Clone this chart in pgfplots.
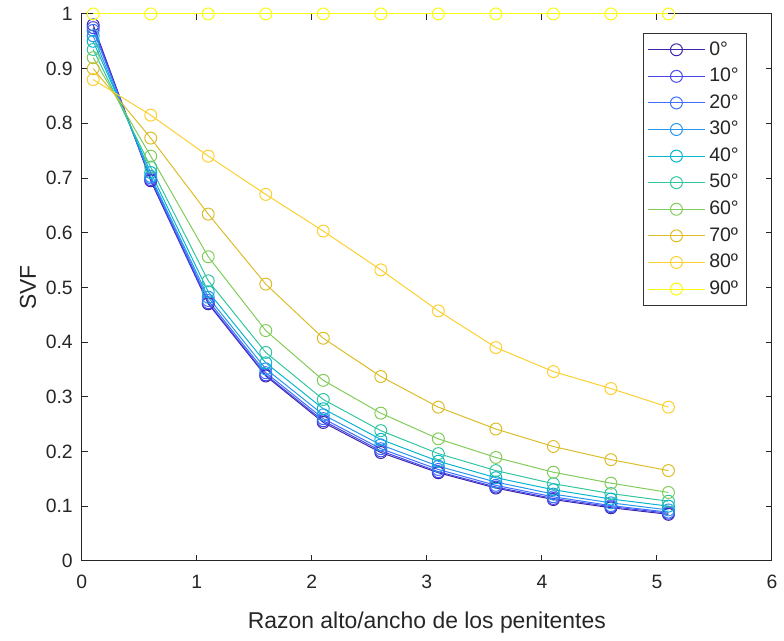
\documentclass[border=0pt]{standalone}
\usepackage{fontspec}
\setmainfont{Liberation Sans}
\usepackage{pgfplots}
\pgfplotsset{compat=1.18}
\definecolor{c0}{rgb}{0.2422,0.1504,0.6603}
\definecolor{c1}{rgb}{0.2803,0.2782,0.9221}
\definecolor{c2}{rgb}{0.2440,0.4358,0.9988}
\definecolor{c3}{rgb}{0.1540,0.5902,0.9218}
\definecolor{c4}{rgb}{0.0297,0.7082,0.8163}
\definecolor{c5}{rgb}{0.1938,0.7758,0.6251}
\definecolor{c6}{rgb}{0.5044,0.7993,0.3480}
\definecolor{c7}{rgb}{0.8634,0.7406,0.1596}
\definecolor{c8}{rgb}{0.9892,0.8136,0.1885}
\definecolor{c9}{rgb}{0.9763,0.9831,0.0538}
\pgfplotstableread{
x    a0    a10   a20   a30   a40   a50   a60   a70   a80   a90
0.1  0.980 0.975 0.970 0.960 0.950 0.935 0.920 0.900 0.880 1
0.6  0.695 0.697 0.700 0.703 0.710 0.720 0.740 0.773 0.815 1
1.1  0.470 0.472 0.476 0.482 0.492 0.512 0.556 0.634 0.740 1
1.6  0.338 0.340 0.344 0.351 0.362 0.381 0.421 0.506 0.670 1
2.1  0.253 0.256 0.260 0.267 0.278 0.295 0.330 0.407 0.603 1
2.6  0.198 0.201 0.205 0.212 0.222 0.238 0.270 0.337 0.532 1
3.1  0.161 0.163 0.167 0.173 0.182 0.196 0.223 0.281 0.457 1
3.6  0.133 0.135 0.138 0.144 0.152 0.165 0.189 0.241 0.390 1
4.1  0.112 0.114 0.117 0.122 0.130 0.141 0.162 0.209 0.346 1
4.6  0.097 0.099 0.101 0.106 0.113 0.123 0.142 0.185 0.315 1
5.1  0.085 0.087 0.089 0.093 0.100 0.109 0.125 0.165 0.281 1
}\svf
\begin{document}
\begin{tikzpicture}
\begin{axis}[
  width=346.5pt, height=274.5pt, scale only axis,
  xmin=0, xmax=6, ymin=0, ymax=1,
  xtick={0,1,2,3,4,5,6},
  ytick={0,0.1,0.2,0.3,0.4,0.5,0.6,0.7,0.8,0.9,1},
  yticklabels={0,0.1,0.2,0.3,0.4,0.5,0.6,0.7,0.8,0.9,1},
  xticklabels={0,1,2,3,4,5,6},
  tick align=inside, xtick pos=both, ytick pos=both,
  major tick length=3pt,
  axis line style={black!85, line width=0.5pt},
  every tick/.style={black!85, line width=0.5pt},
  /pgf/number format/assume math mode=true,
  ticklabel style={font=\fontsize{9.7}{11}\selectfont, text=black!85},
  xticklabel style={yshift=-3.5pt},
  yticklabel style={xshift=-1pt},
  xlabel={Razon alto/ancho de los penitentes},
  ylabel={SVF},
  label style={font=\fontsize{11.5}{13}\selectfont, text=black!85},
  xlabel style={yshift=-5pt},
  ylabel style={yshift=-2pt},
  clip=false,
  legend style={at={(0.964,0.965)}, anchor=north east, draw=black!80,
    font=\fontsize{9.8}{11}\selectfont, text=black!85, cells={anchor=west},
    row sep=1.0pt, inner sep=2pt},
  legend image code/.code={%
    \draw[#1, mark repeat=2, mark phase=2] plot coordinates {(0cm,0cm) (0.5cm,0cm) (1.0cm,0cm)};},
  every axis plot/.append style={line width=0.5pt, mark=o, mark size=3pt, mark options={solid}},
]
\addplot[c0] table[x=x,y=a0]{\svf};
\addplot[c1] table[x=x,y=a10]{\svf};
\addplot[c2] table[x=x,y=a20]{\svf};
\addplot[c3] table[x=x,y=a30]{\svf};
\addplot[c4] table[x=x,y=a40]{\svf};
\addplot[c5] table[x=x,y=a50]{\svf};
\addplot[c6] table[x=x,y=a60]{\svf};
\addplot[c7] table[x=x,y=a70]{\svf};
\addplot[c8] table[x=x,y=a80]{\svf};
\addplot[c9] table[x=x,y=a90]{\svf};
\legend{0°,10°,20°,30°,40°,50°,60°,70º,80º,90º}
\end{axis}
\path ([xshift=-41pt,yshift=-37pt]current axis.south west);
\path ([xshift=4.5pt,yshift=7pt]current axis.north east);
\end{tikzpicture}
\end{document}
